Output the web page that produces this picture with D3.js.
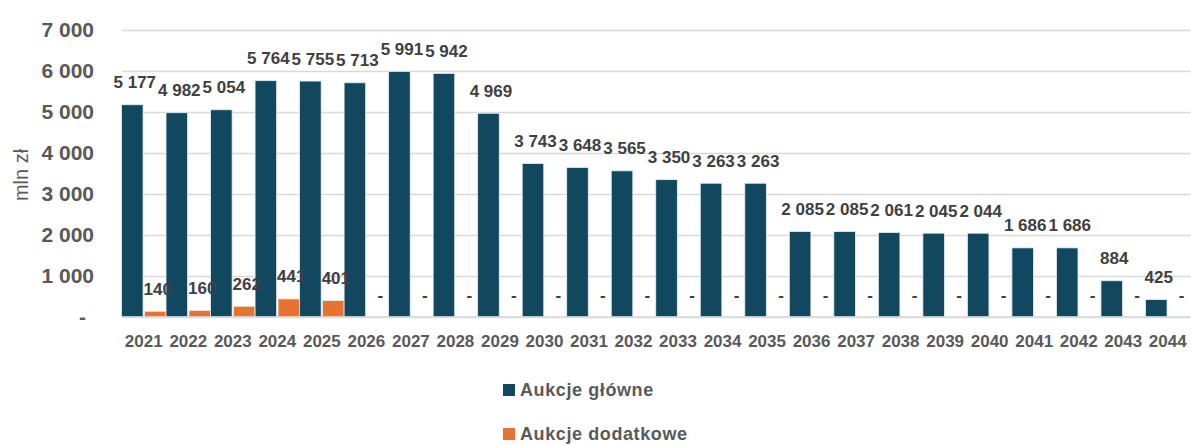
<!DOCTYPE html>
<html>
<head>
<meta charset="utf-8">
<script src="https://cdn.jsdelivr.net/npm/d3@7"></script>
<style>
  html, body { margin: 0; padding: 0; background: #ffffff; }
  svg { display: block; }
  text { font-family: "Liberation Sans", Arial, sans-serif; }
</style>
</head>
<body>
<svg id="chart" width="1191" height="445"></svg>
<script>
// Auction budget by year (mln zł)
const years = ["2021","2022","2023","2024","2025","2026","2027","2028","2029","2030","2031","2032",
               "2033","2034","2035","2036","2037","2038","2039","2040","2041","2042","2043","2044"];
const mainAuctions  = [5177, 4982, 5054, 5764, 5755, 5713, 5991, 5942, 4969, 3743, 3648, 3565,
                       3350, 3263, 3263, 2085, 2085, 2061, 2045, 2044, 1686, 1686, 884, 425];
const extraAuctions = [140, 160, 262, 441, 401, 0, 0, 0, 0, 0, 0, 0,
                       0, 0, 0, 0, 0, 0, 0, 0, 0, 0, 0, 0];
const yTickValues = [0, 1000, 2000, 3000, 4000, 5000, 6000, 7000];
const seriesNames = ["Aukcje główne", "Aukcje dodatkowe"];
const seriesColors = ["#124760", "#E97132"];
const yAxisTitle = "mln zł";

const svg = d3.select("#chart");

const plot = { left: 121.5, right: 1190, top: 30, bottom: 317 };

const x = d3.scaleBand().domain(years).range([plot.left, plot.right]).paddingInner(0).paddingOuter(0);
const xs = d3.scaleBand().domain(seriesNames).range([0, x.bandwidth()]).paddingInner(0.06).paddingOuter(0);
const y = d3.scaleLinear().domain([0, 7000]).range([plot.bottom, plot.top]);

const pl = d3.formatLocale({ decimal: ",", thousands: "\u00a0", grouping: [3], currency: ["", ""] });
const fmt = v => v === 0 ? "-" : pl.format(",")(v);

// gridlines
const grid = svg.append("g")
  .attr("transform", "translate(122,0)")
  .call(d3.axisLeft(y).tickValues(yTickValues).tickSize(-(plot.right - 122)).tickFormat(""));
grid.select(".domain").remove();
grid.selectAll(".tick line").attr("stroke", "#d9d9d9").attr("stroke-width", 1.4);

// y tick labels
const yAxis = svg.append("g")
  .attr("transform", "translate(94,0)")
  .call(d3.axisLeft(y).tickValues(yTickValues).tickSize(0).tickPadding(0).tickFormat(fmt));
yAxis.select(".domain").remove();
yAxis.selectAll(".tick text")
  .attr("fill", "#595959")
  .attr("font-size", 21)
  .attr("font-weight", "bold")
  .attr("dx", d => d === 0 ? -8 : 0);

// y axis title
svg.append("text")
  .attr("transform", "translate(28,175) rotate(-90)")
  .attr("text-anchor", "middle")
  .attr("fill", "#595959")
  .attr("font-size", 20)
  .text(yAxisTitle);

// x tick labels
const xAxis = svg.append("g")
  .attr("transform", `translate(0,${plot.bottom})`)
  .call(d3.axisBottom(x).tickSize(0).tickPadding(0));
xAxis.select(".domain").remove();
xAxis.selectAll(".tick text")
  .attr("fill", "#595959")
  .attr("font-size", 17)
  .attr("font-weight", "bold")
  .attr("dy", null)
  .attr("y", 30);

// bars, then value labels on top of all bars
const rows = years.map((yr, i) => ({ year: yr, values: [mainAuctions[i], extraAuctions[i]] }));
const cellsOf = d => d.values.map((v, k) => ({ name: seriesNames[k], color: seriesColors[k], value: v }));

const barLayer = svg.append("g");

barLayer.selectAll("g")
  .data(rows).join("g")
  .attr("transform", d => `translate(${x(d.year)},0)`)
  .selectAll("rect")
  .data(cellsOf).join("rect")
  .attr("x", d => xs(d.name))
  .attr("width", xs.bandwidth())
  .attr("y", d => y(d.value))
  .attr("height", d => y(0) - y(d.value))
  .attr("fill", d => d.color)
  .attr("stroke", d => d.value > 0 ? "#e8eef2" : "none")
  .attr("stroke-width", 0.8);

// baseline
svg.append("line")
  .attr("x1", 122).attr("x2", plot.right)
  .attr("y1", y(0)).attr("y2", y(0))
  .attr("stroke", "#d9d9d9").attr("stroke-width", 1.6);

const labelLayer = svg.append("g");
labelLayer.selectAll("g")
  .data(rows).join("g")
  .attr("transform", d => `translate(${x(d.year)},0)`)
  .selectAll("text")
  .data(cellsOf).join("text")
  .attr("x", d => xs(d.name) + xs.bandwidth() / 2 + 2.5)
  .attr("y", d => y(d.value) - 16.5)
  .attr("text-anchor", "middle")
  .attr("fill", "#404040")
  .attr("font-size", 17)
  .attr("font-weight", "bold")
  .text(d => fmt(d.value));

// legend
const legend = svg.append("g").selectAll("g")
  .data(seriesNames).join("g")
  .attr("transform", (d, i) => `translate(503,${384 + i * 44})`);
legend.append("rect")
  .attr("width", 12).attr("height", 12)
  .attr("fill", (d, i) => seriesColors[i]);
legend.append("text")
  .attr("x", 17).attr("y", 12.3)
  .attr("fill", "#595959")
  .attr("font-size", 18)
  .attr("font-weight", "bold")
  .attr("letter-spacing", 0.6)
  .text(d => d);
</script>
</body>
</html>
